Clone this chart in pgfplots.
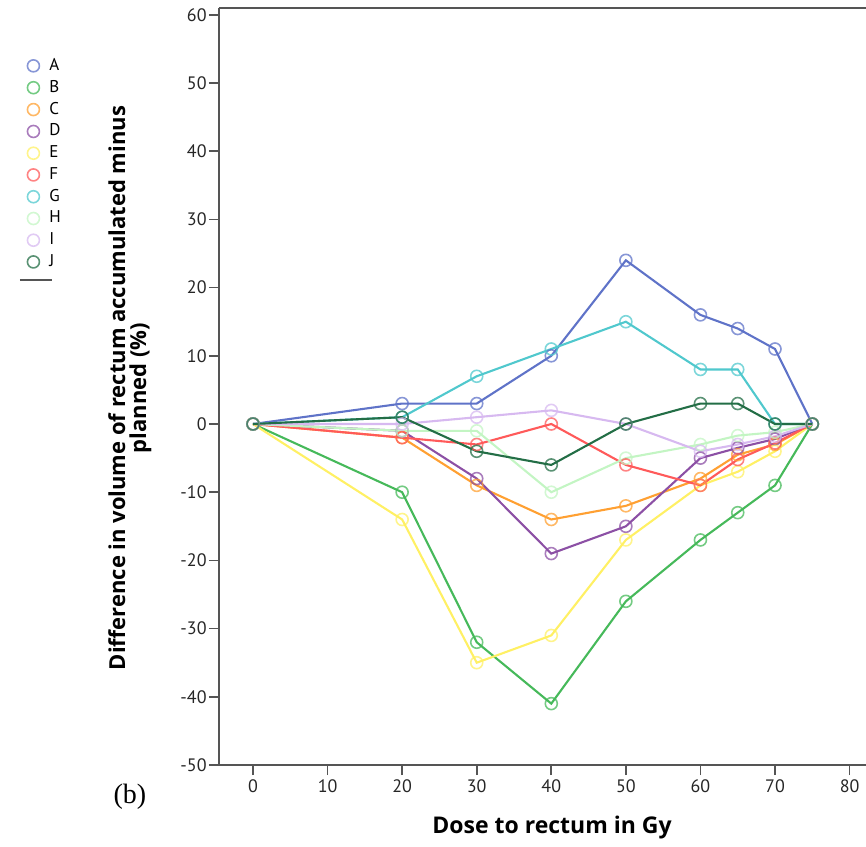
\documentclass[border=0pt]{standalone}
\usepackage{fontspec}
\setmainfont{Open Sans}
\newfontfamily\ptsans{PT Sans}
\newfontfamily\serifb{Liberation Serif}
\usepackage{pgfplots}
\pgfplotsset{compat=1.18}
\definecolor{cA}{RGB}{95,115,200}
\definecolor{cB}{RGB}{70,185,90}
\definecolor{cC}{RGB}{255,160,50}
\definecolor{cD}{RGB}{140,80,165}
\definecolor{cE}{RGB}{255,240,100}
\definecolor{cF}{RGB}{255,90,90}
\definecolor{cG}{RGB}{80,200,205}
\definecolor{cH}{RGB}{195,245,195}
\definecolor{cI}{RGB}{215,185,240}
\definecolor{cJ}{RGB}{35,110,70}
\definecolor{axgray}{RGB}{85,85,85}
\begin{document}
\begin{tikzpicture}[x=1pt,y=1pt]
\useasboundingbox (-109.5,-40.5) rectangle (323.5,382.5);
\begin{axis}[
  at={(0,0)}, anchor=south west,
  scale only axis, width=323.5pt, height=378.5pt,
  xmin=-4.56, xmax=82.2, ymin=-50, ymax=61,
  axis x line*=bottom, axis y line*=left,
  axis line style={axgray, line width=1.1pt},
  xtick={0,10,...,80}, ytick={-50,-40,...,60},
  tick align=outside, major tick length=5pt,
  every tick/.style={axgray, line width=0.8pt},
  /pgf/number format/assume math mode=true,
  ticklabel style={font=\ptsans\fontsize{9}{10}\selectfont, text=black!85},
  yticklabel style={inner sep=1pt},
  xticklabel style={inner sep=2pt},
  clip=false,
  every axis plot/.append style={line width=1.05pt, mark=o, mark size=3pt, mark options={line width=0.8pt, opacity=0.75}},
  legend style={at={(-0.2998,0.942)}, anchor=north west, draw=none, fill=none,
     font=\ptsans\fontsize{8.5}{9}\selectfont, row sep=-0.6pt, inner sep=1pt,
     /tikz/every odd column/.append style={column sep=3pt}},
  legend cell align=left,
  legend image code/.code={\draw[#1,only marks] plot coordinates {(0.2cm,0cm)};},
]
\addplot[cA] coordinates {(0,0) (20,3) (30,3) (40,10) (50,24) (60,16) (65,14) (70,11) (75,0)};
\addlegendentry{A}
\addplot[cB] coordinates {(0,0) (20,-10) (30,-32) (40,-41) (50,-26) (60,-17) (65,-13) (70,-9) (75,0)};
\addlegendentry{B}
\addplot[cC] coordinates {(0,0) (20,-2) (30,-9) (40,-14) (50,-12) (60,-8) (65,-4.5) (70,-3) (75,0)};
\addlegendentry{C}
\addplot[cD] coordinates {(0,0) (20,-1) (30,-8) (40,-19) (50,-15) (60,-5) (65,-3.5) (70,-2.2) (75,0)};
\addlegendentry{D}
\addplot[cE] coordinates {(0,0) (20,-14) (30,-35) (40,-31) (50,-17) (60,-9) (65,-7) (70,-4) (75,0)};
\addlegendentry{E}
\addplot[cF] coordinates {(0,0) (20,-2) (30,-3) (40,0) (50,-6) (60,-9) (65,-5.2) (70,-2.8) (75,0)};
\addlegendentry{F}
\addplot[cG] coordinates {(0,0) (20,1) (30,7) (40,11) (50,15) (60,8) (65,8) (70,0) (75,0)};
\addlegendentry{G}
\addplot[cH] coordinates {(0,0) (20,-1) (30,-1) (40,-10) (50,-5) (60,-3) (65,-1.7) (70,-1.2) (75,0)};
\addlegendentry{H}
\addplot[cI] coordinates {(0,0) (20,0) (30,1) (40,2) (50,0) (60,-4) (65,-3) (70,-1.8) (75,0)};
\addlegendentry{I}
\addplot[cJ] coordinates {(0,0) (20,1) (30,-4) (40,-6) (50,0) (60,3) (65,3) (70,0) (75,0)};
\addlegendentry{J}
\draw[axgray, line width=0.8pt] (rel axis cs:0,1) -- (rel axis cs:1,1);
\draw[axgray, line width=1pt] (axis description cs:-0.3076,0.6407) -- (axis description cs:-0.258,0.6407);
\node[rotate=90, align=center, font=\fontsize{11}{10.5}\selectfont\bfseries]
  at (axis description cs:-0.1376,0.498) {Difference in volume of rectum accumulated minus\\planned (\%)};
\node[font=\fontsize{11.5}{12}\selectfont\bfseries] at (axis description cs:0.5147,0) [yshift=-31.5pt] {Dose to rectum in Gy};
\node[font=\serifb\fontsize{14}{15}\selectfont] at (axis description cs:-0.1376,0) [yshift=-16pt] {(b)};
\end{axis}
\end{tikzpicture}
\end{document}
